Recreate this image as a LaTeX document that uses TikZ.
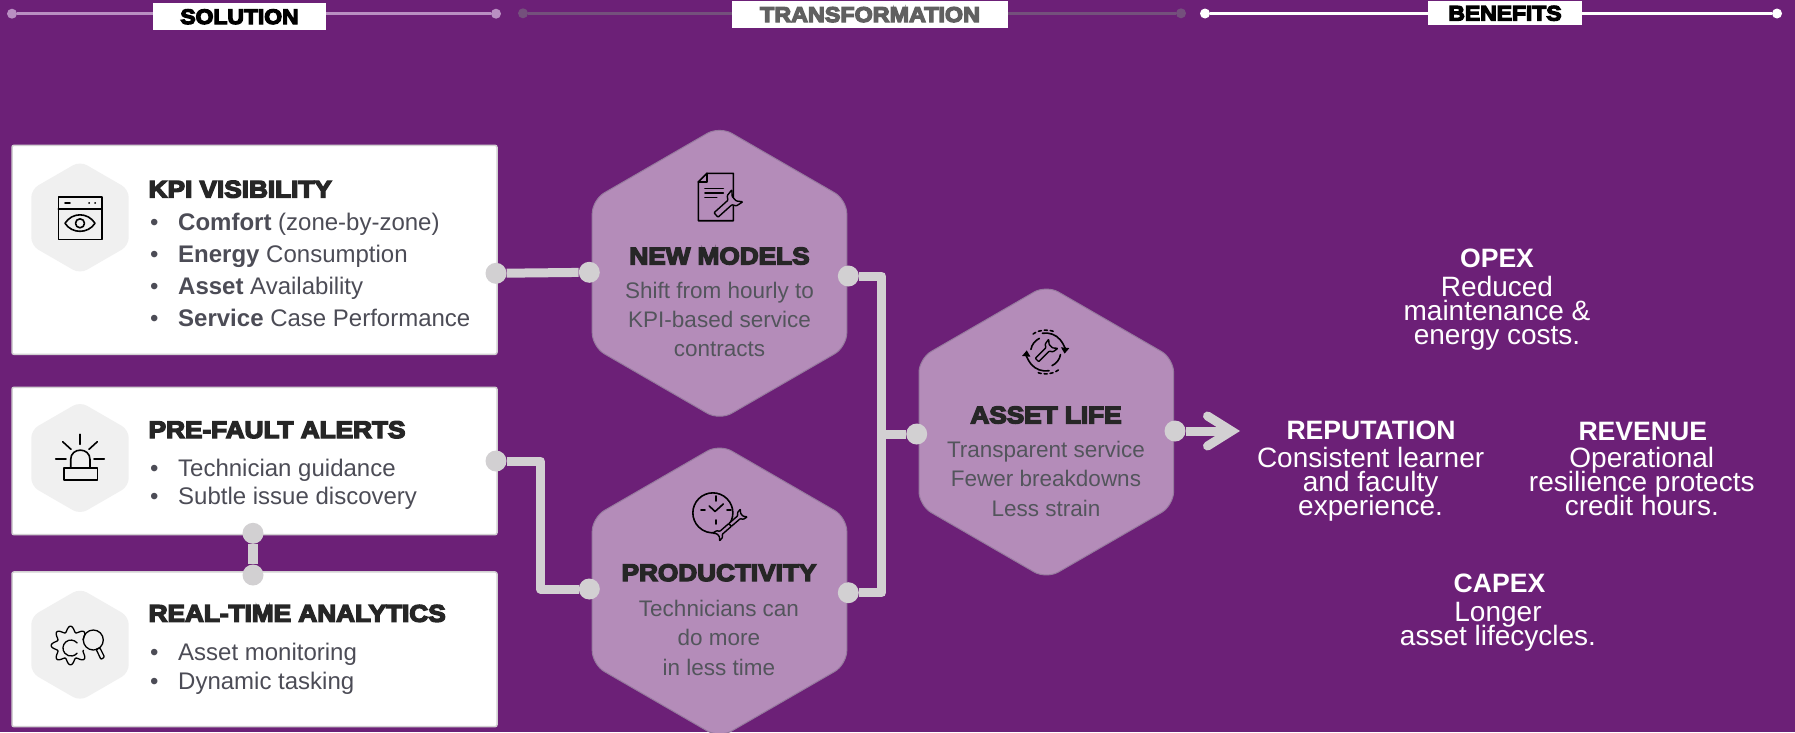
\documentclass[tikz,border=0pt]{standalone}
\usepackage{fontspec}
\usetikzlibrary{shapes.geometric,arrows.meta}
\setmainfont{Liberation Sans}
\newfontfamily\heavyfont[FakeStretch=1.09,FakeBold=6]{Liberation Sans Bold}
\definecolor{backdrop}{HTML}{6C2077}
\definecolor{hexfill}{HTML}{B48CB9}
\definecolor{hexline}{HTML}{977A9F}
\definecolor{softhex}{HTML}{F0F0F0}
\definecolor{linkgray}{HTML}{D2D0D2}
\definecolor{bodygray}{HTML}{4C4C56}
\definecolor{hexgray}{HTML}{53555C}
\definecolor{inkblack}{HTML}{262626}
\definecolor{solline}{HTML}{B98FC2}
\definecolor{transline}{HTML}{74507C}
\lineskiplimit=-30pt
\newcommand{\bulletline}[1]{\makebox[28pt][l]{\textbullet}#1}
\tikzset{
 cardbox/.style={draw=linkgray,fill=white,line width=1.5pt,rounded corners=2pt,minimum width=485pt,inner sep=0pt},
 softhexagon/.style={regular polygon,regular polygon sides=6,shape border rotate=30,fill=softhex,rounded corners=8pt,minimum size=112.5pt,inner sep=0pt},
 bighexagon/.style={regular polygon,regular polygon sides=6,shape border rotate=30,fill=hexfill,draw=hexline,line width=1pt,rounded corners=14pt,minimum size=294pt,inner sep=0pt},
 joint/.style={circle,fill=linkgray,minimum size=21pt,inner sep=0pt},
 link/.style={draw=linkgray,line width=9pt,line join=round},
 headdot/.style={circle,minimum size=10pt,inner sep=0pt},
 headline/.style={line width=3pt},
 headbox/.style={fill=white,inner sep=0pt,text height=15pt,text depth=0pt},
 cardtitle/.style={anchor=base west,inner sep=0pt,text=inkblack,font=\heavyfont\fontsize{24}{24}\selectfont},
 bullets/.style={anchor=base west,inner sep=0pt,align=left,text=bodygray},
 hextitle/.style={anchor=base,inner sep=0pt,text=inkblack,font=\heavyfont\fontsize{24}{24}\selectfont},
 hextext/.style={anchor=base,inner sep=0pt,align=center,text=hexgray,font=\fontsize{22.5}{29.2}\selectfont},
 gaintitle/.style={anchor=base,inner sep=0pt,text=white,font=\bfseries\fontsize{26.6}{26.6}\selectfont},
 gaintext/.style={anchor=base,inner sep=0pt,align=center,text=white,font=\fontsize{28}{24}\selectfont},
 icon/.style={draw=black,line width=1.6pt,line join=round,line cap=round},
 wrench/.pic={
  \draw[icon,fill=hexfill,line width=1.4pt,rounded corners=0.8pt] (0,-2.4) -- (15,-2.4) -- (17,-5.5) -- (23,-6.5) -- (19.5,-2.4) -- (19.5,2.4) -- (23,6.5) -- (17,5.5) -- (15,2.4) -- (0,2.4) -- cycle;
 }
}
\begin{document}
\begin{tikzpicture}[x=1pt,y=-1pt]
 \useasboundingbox (0,0) rectangle (1795,732);
 \clip (0,0) rectangle (1795,732);
 \fill[backdrop] (0,0) rectangle (1795,732);

 \node[headdot,fill=solline] (solleft) at (12,13.7) {};
 \node[headdot,fill=solline] (solright) at (496,13.7) {};
 \node[headdot,fill=transline] (transleft) at (523,13.3) {};
 \node[headdot,fill=transline] (transright) at (1181,13.3) {};
 \node[headdot,fill=white] (gainleft) at (1205,13.5) {};
 \node[headdot,fill=white] (gainright) at (1777,13.5) {};
 \draw[headline,solline] (solleft) -- (solright);
 \draw[headline,transline] (transleft) -- (transright);
 \draw[headline,white] (gainleft) -- (gainright);
 \node[headbox,minimum width=173pt,minimum height=27pt,text=black,font=\heavyfont\fontsize{21}{21}\selectfont] (solbox) at (239.5,16.5) {SOLUTION};
 \node[headbox,minimum width=276pt,minimum height=27pt,text=gray!75!black,font=\heavyfont\fontsize{21.4}{21}\selectfont] (transbox) at (870,14.5) {TRANSFORMATION};
 \node[headbox,minimum width=154pt,minimum height=24pt,text=black,font=\heavyfont\fontsize{21}{21}\selectfont] (gainbox) at (1505,13) {BENEFITS};

 \node[cardbox,minimum height=209pt] (kpicard) at (254.5,249.8) {};
 \node[cardbox,minimum height=147.4pt] (faultcard) at (254.5,461) {};
 \node[cardbox,minimum height=154.7pt] (livecard) at (254.5,649.3) {};
 \node[softhexagon] (kpihex) at (80,217.5) {};
 \node[softhexagon] (faulthex) at (80,458) {};
 \node[softhexagon] (livehex) at (80,644.7) {};

 \node[cardtitle] (kpititle) at (148.5,197.5) {KPI VISIBILITY};
 \node[bullets,font=\fontsize{24}{32}\selectfont] (kpilist) at (150,326.7) {\bulletline{\textbf{Comfort} (zone-by-zone)}\\\bulletline{\textbf{Energy} Consumption}\\\bulletline{\textbf{Asset} Availability}\\\bulletline{\textbf{Service} Case Performance}};
 \node[cardtitle] (faulttitle) at (148.5,438) {PRE-FAULT ALERTS};
 \node[bullets,font=\fontsize{24}{28.7}\selectfont] (faultlist) at (150,504.7) {\bulletline{Technician guidance}\\\bulletline{Subtle issue discovery}};
 \node[cardtitle] (livetitle) at (148.5,621.7) {REAL-TIME ANALYTICS};
 \node[bullets,font=\fontsize{24}{28.7}\selectfont] (livelist) at (150,689) {\bulletline{Asset monitoring}\\\bulletline{Dynamic tasking}};

 \node[bighexagon] (modelshex) at (719.5,273.3) {};
 \node[bighexagon] (prodhex) at (719.5,591) {};
 \node[bighexagon] (lifehex) at (1046.3,432) {};

 \node[hextitle] (modelstitle) at (719.5,264.3) {NEW MODELS};
 \node[hextext] (modelstext) at (719.5,356.7) {Shift from hourly to\\KPI-based service\\contracts};
 \node[hextitle] (prodtitle) at (719,581) {PRODUCTIVITY};
 \node[hextext] (prodtext) at (719,675) {Technicians can\\do more\\in less time};
 \node[hextitle] (lifetitle) at (1046,423.3) {ASSET LIFE};
 \node[hextext] (lifetext) at (1046,516) {Transparent service\\Fewer breakdowns\\Less strain};

 \node[joint] (kpiout) at (496,273.3) {};
 \node[joint] (modelsin) at (589.3,272.3) {};
 \node[joint] (faultout) at (496,461) {};
 \node[joint] (prodin) at (589.3,589) {};
 \node[joint] (faultdown) at (253,533.3) {};
 \node[joint] (liveup) at (253,575) {};
 \node[joint] (modelsout) at (848.3,276) {};
 \node[joint] (prodout) at (848.3,592.7) {};
 \node[joint] (lifein) at (916.7,434) {};
 \node[joint] (lifeout) at (1175,431) {};
 \coordinate (faultturn) at (540.4,525);
 \coordinate (bus) at (881.7,434);
 \coordinate (arrowtip) at (1240,431);
 \draw[link] (kpiout) -- (modelsin);
 \draw[link] (faultout) -| (faultturn) |- (prodin);
 \draw[link,line width=10pt] (faultdown) -- (liveup);
 \draw[link] (modelsout) -| (bus) |- (prodout);
 \draw[link] (bus) -- (lifein);
 \draw[link,-{Straight Barb[length=24pt,width=30pt,line cap=round,line join=miter]}] (lifeout) -- (arrowtip);

 \node[gaintitle] (opextitle) at (1497,267.3) {OPEX};
 \node[gaintext] (opextext) at (1497,344.7) {Reduced\\maintenance \&\\energy costs.};
 \node[gaintitle] (reptitle) at (1371,439.3) {REPUTATION};
 \node[gaintext] (reptext) at (1370.6,515.7) {Consistent learner\\and faculty\\experience.};
 \node[gaintitle] (revtitle) at (1642.8,440) {REVENUE};
 \node[gaintext] (revtext) at (1641.8,515.7) {Operational\\resilience protects\\credit hours.};
 \node[gaintitle] (capextitle) at (1499.5,592.7) {CAPEX};
 \node[gaintext] (capextext) at (1498,645.7) {Longer\\asset lifecycles.};

 \draw[icon] (58.3,196.7) rectangle (101.7,239.3);
 \draw[icon] (58.3,209) -- (101.7,209);
 \draw[icon] (65,203) -- (70,203);
 \draw[icon] (89,203) -- (89.3,203);
 \draw[icon] (95,203) -- (95.3,203);
 \draw[icon] (65,223.3) .. controls (72,212) and (88,212) .. (95,223.3) .. controls (88,234) and (72,234) .. (65,223.3);
 \draw[icon] (80,223.3) circle (4.5pt);

 \draw[icon] (64,467.7) rectangle (97.3,480);
 \draw[icon] (70.7,467.7) -- (70.7,459.5) .. controls (70.7,447) and (90,447) .. (90,459.5) -- (90,467.7);
 \draw[icon] (80,434.3) -- (80,444.3);
 \draw[icon] (62.7,441.7) -- (71,449.3);
 \draw[icon] (97.3,441.7) -- (89,449.3);
 \draw[icon] (55.7,459) -- (66,459);
 \draw[icon] (94,459) -- (104.3,459);

 \draw[icon,line width=1.3pt] plot[domain=20:335,samples=160,smooth] ({70.5+(16.5+2.8*cos(8*\x))*cos(\x)},{645.5+(16.5+2.8*cos(8*\x))*sin(\x)});
 \draw[icon,line width=1.3pt] (77.1,642.9) arc[start angle=40,end angle=320,radius=8pt];
 \draw[icon,line width=1.3pt] (93.3,640) circle (10pt);
 \draw[icon,line width=1.3pt,rounded corners=1pt] (96,649) -- (100,648) -- (104.5,657) -- (101,659.5) -- cycle;

 \draw[icon] (707,173.3) -- (733.3,173.3) -- (733.3,220.7) -- (698.3,220.7) -- (698.3,182) -- cycle;
 \draw[icon] (707,173.3) -- (707,182) -- (698.3,182);
 \draw[icon] (705,188.3) -- (723.3,188.3);
 \draw[icon] (705,192.7) -- (723.3,192.7);
 \draw[icon] (705,197.3) -- (716.7,197.3);
 \pic[rotate=42,scale=1.25] at (716,215) {wrench};

 \draw[icon] (727,527) arc[start angle=-45,end angle=280,radius=20pt];
 \draw[icon] (715.7,496) -- (715.7,501);
 \draw[icon] (701,510) -- (705,510);
 \draw[icon] (727,510) -- (731,510);
 \draw[icon] (715.7,520) -- (715.7,524);
 \draw[icon] (709.3,506) -- (715,511.5) -- (723.3,504);
 \pic[rotate=41,scale=0.8] at (730,525) {wrench};
 \pic[rotate=221,scale=0.8] at (730,525) {wrench};

 \draw[icon,-{Triangle[length=6pt,width=8pt]}] (1045.7,352) ++(100:19pt) arc[start angle=100,end angle=-5,radius=19pt];
 \draw[icon,-{Triangle[length=6pt,width=8pt]}] (1045.7,352) ++(280:19pt) arc[start angle=280,end angle=175,radius=19pt];
 \draw[icon] (1045.7,352) ++(170:15pt) arc[start angle=170,end angle=115,radius=15pt];
 \draw[icon] (1045.7,352) ++(-10:15pt) arc[start angle=-10,end angle=-65,radius=15pt];
 \draw[icon,dashed] (1045.7,352) ++(125:22pt) arc[start angle=125,end angle=65,radius=22pt];
 \draw[icon,dashed] (1045.7,352) ++(305:22pt) arc[start angle=305,end angle=245,radius=22pt];
 \pic[rotate=45,scale=1] at (1037,360) {wrench};
\end{tikzpicture}
\end{document}
